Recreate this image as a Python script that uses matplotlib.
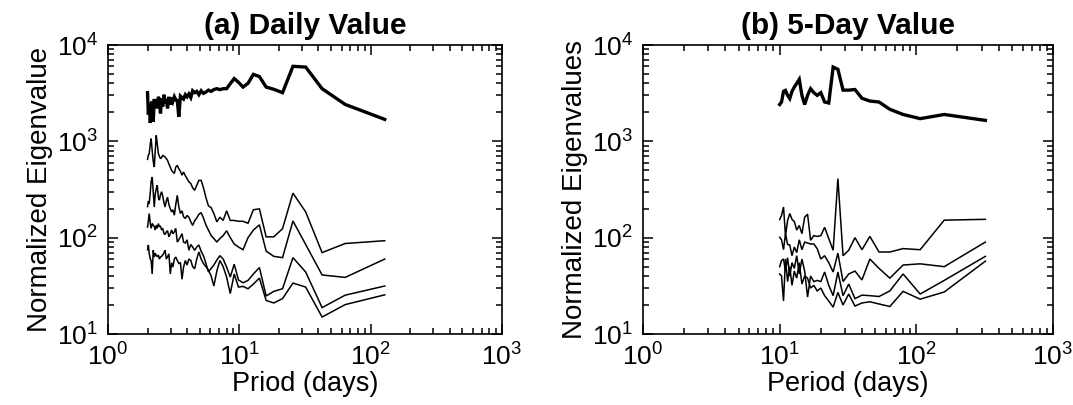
import matplotlib
matplotlib.use("Agg")
import matplotlib.pyplot as plt
from matplotlib.ticker import LogLocator, NullFormatter

plt.rcParams['font.family'] = ['Liberation Sans', 'DejaVu Sans']
plt.rcParams['mathtext.default'] = 'regular'

# ---- data: daily values (period in days) ----
daily_period = [128, 64, 42.67, 32, 25.6, 21.33, 18.29, 16, 14.22, 12.8, 11.64, 10.67,
                9.85, 9.14, 8.53, 8, 7.53, 7.11, 6.74, 6.4, 6.1, 5.82, 5.57, 5.33, 5.12,
                4.92, 4.74, 4.57, 4.41, 4.27, 4.13, 4, 3.88, 3.76, 3.66, 3.56, 3.46, 3.37,
                3.28, 3.2, 3.12, 3.05, 2.98, 2.91, 2.84, 2.78, 2.72, 2.67, 2.61, 2.56,
                2.51, 2.46, 2.42, 2.37, 2.33, 2.29, 2.25, 2.21, 2.17, 2.13, 2.1, 2.06,
                2.03, 2.0]
daily_ev1 = [1690, 2415, 3520, 5900, 6010, 3200, 3470, 3660, 4700, 4960, 4000, 3660,
             4100, 4480, 3970, 3520, 3520, 3440, 3520, 3450, 3300, 3400, 3250, 3150, 3350,
             3050, 3300, 3200, 3350, 2850, 3100, 2900, 3050, 2750, 2850, 2950, 1800, 2650,
             2700, 2900, 2600, 2850, 2400, 2900, 2200, 2750, 2500, 3050, 2300, 2800,
             1950, 2700, 2900, 2200, 2700, 2400, 2750, 1600, 2600, 2200, 1550, 2500,
             1900, 3200]
daily_ev2 = [93, 87, 70, 185, 290, 124, 102, 102, 199, 195, 141, 148,
             148, 151, 151, 190, 151, 163, 146, 178, 205, 214, 260, 330, 393,
             393, 350, 310, 330, 365, 380, 410, 440, 480, 445, 490, 520, 563,
             540, 464, 480, 500, 540, 580, 635, 660, 688, 700, 716, 680,
             661, 700, 745, 950, 1153, 800, 541, 620, 800, 1066, 950, 745,
             720, 650]
daily_ev3 = [60, 38.7, 41, 85, 149, 62, 64, 72.6, 136, 120, 100, 75,
             80, 86, 100, 118, 105, 98, 90, 98, 105, 120, 135, 160, 182,
             175, 160, 150, 134, 146, 163, 170, 158, 165, 190, 178, 210, 275,
             220, 171, 195, 185, 200, 220, 263, 240, 208, 230, 270, 300,
             280, 245, 260, 350, 320, 286, 208, 300, 427, 380, 300, 225,
             240, 210]
daily_ev4 = [31.5, 25.3, 18.8, 44, 62, 29.5, 27.7, 24.8, 49, 42, 36, 34,
             36.4, 53, 39, 49.5, 60, 65, 58.6, 52, 48, 44, 54, 65, 72,
             84, 80, 74, 80, 85, 74, 95, 88, 90, 110, 102, 95, 90,
             125, 115, 110, 120, 110, 102, 118, 115, 108, 110, 125, 120,
             132, 130, 140, 125, 135, 120, 130, 135, 140, 125, 140, 178,
             150, 129]
daily_ev5 = [25.5, 20.2, 15, 30.7, 33.8, 23.3, 21, 22.3, 38, 33, 29.5, 31.2,
             30.7, 42, 26.3, 39, 50, 58, 45, 31.5, 40, 46, 50, 54, 60,
             71, 60, 47.6, 50, 58, 60, 52, 58, 49.5, 37, 55, 54, 58,
             63, 60, 49.5, 55, 42, 68, 63, 60, 74, 70, 66, 64,
             63, 60, 66, 64, 65, 69, 63, 74, 42, 58, 60, 68,
             84, 75]

# ---- data: 5-day values ----
fiveday_period = [320, 160, 106.67, 80, 64, 53.33, 45.71, 40, 35.56, 32, 29.09, 26.67,
                  24.62, 22.86, 21.33, 20, 18.82, 17.78, 16.84, 16, 15.24, 14.55,
                  13.91, 13.33, 12.8, 12.31, 11.85, 11.43, 11.03, 10.67, 10.32, 10]
fiveday_ev1 = [1650, 1900, 1720, 1900, 2150, 2560, 2620, 2800, 3450, 3400, 3400, 5600,
               5900, 2500, 2560, 3200, 3000, 3200, 3520, 3000, 2410, 3000,
               4400, 4000, 3660, 3300, 2780, 3000, 3380, 3300, 2560, 2410]
fiveday_ev2 = [155, 152, 75, 77, 71, 71, 103, 75, 100, 74, 65, 410,
               74, 98, 128, 105, 103, 105, 94, 175, 163, 110,
               134, 120, 147, 155, 178, 150, 105, 208, 170, 154]
fiveday_ev3 = [90, 50, 53.5, 52, 38, 48, 60, 36.4, 45, 42, 35, 69,
               44, 55, 65, 60, 77, 86, 86, 88, 90, 75,
               95, 70, 80, 65, 84, 85, 110, 75, 95, 101]
fiveday_ev4 = [64, 36, 26, 42, 28, 24.5, 25, 25.3, 23.3, 33, 25, 44,
               25, 32, 44, 35, 36, 35, 40, 24.2, 45, 60,
               42, 65, 48, 55, 40, 62, 45, 60, 58, 50]
fiveday_ev5 = [57, 27.3, 23, 27.7, 19.3, 20.5, 21.6, 21, 19.5, 26, 20, 27,
               19, 22, 25, 30, 28, 32, 30, 38, 40, 33,
               55, 38, 45, 32, 50, 35, 60, 22, 40, 42]

titles = ["(a) Daily Value", "(b) 5-Day Value"]
xlabels = ["Priod (days)", "Period (days)"]
ylabels = ["Normalized Eigenvalue", "Normalized Eigenvalues"]

W, H = 1073, 405
fig = plt.figure(figsize=(W / 100, H / 100), dpi=100)
ax_a = fig.add_axes([108 / W, (H - 334) / H, 394 / W, 289 / H])
ax_b = fig.add_axes([643 / W, (H - 334) / H, 410 / W, 289 / H])

panels = [
    (ax_a, daily_period, [daily_ev1, daily_ev2, daily_ev3, daily_ev4, daily_ev5]),
    (ax_b, fiveday_period, [fiveday_ev1, fiveday_ev2, fiveday_ev3, fiveday_ev4, fiveday_ev5]),
]

for i, (ax, per, evs) in enumerate(panels):
    for j, ev in enumerate(evs):
        ax.plot(per, ev, color='black', lw=2.4 if j == 0 else 1.1,
                solid_joinstyle='miter')
    ax.set_xscale('log')
    ax.set_yscale('log')
    ax.set_xlim(1, 1000)
    ax.set_ylim(10, 10000)
    ax.xaxis.set_major_locator(LogLocator(base=10, numticks=10))
    ax.yaxis.set_major_locator(LogLocator(base=10, numticks=10))
    ax.xaxis.set_minor_locator(LogLocator(base=10, subs=range(2, 10), numticks=20))
    ax.yaxis.set_minor_locator(LogLocator(base=10, subs=range(2, 10), numticks=20))
    ax.xaxis.set_minor_formatter(NullFormatter())
    ax.yaxis.set_minor_formatter(NullFormatter())
    ax.tick_params(which='both', direction='in', top=True, right=True, width=1.1)
    ax.tick_params(which='major', length=7, labelsize=19, pad=7)
    ax.tick_params(which='minor', length=4)
    for s in ax.spines.values():
        s.set_linewidth(1.2)
    ax.set_title(titles[i], fontsize=21.5, fontweight='bold', pad=8)
    ax.set_xlabel(xlabels[i], fontsize=19.5, labelpad=0)
    ax.set_ylabel(ylabels[i], fontsize=20, labelpad=3)

fig.savefig("out.png", dpi=100)
